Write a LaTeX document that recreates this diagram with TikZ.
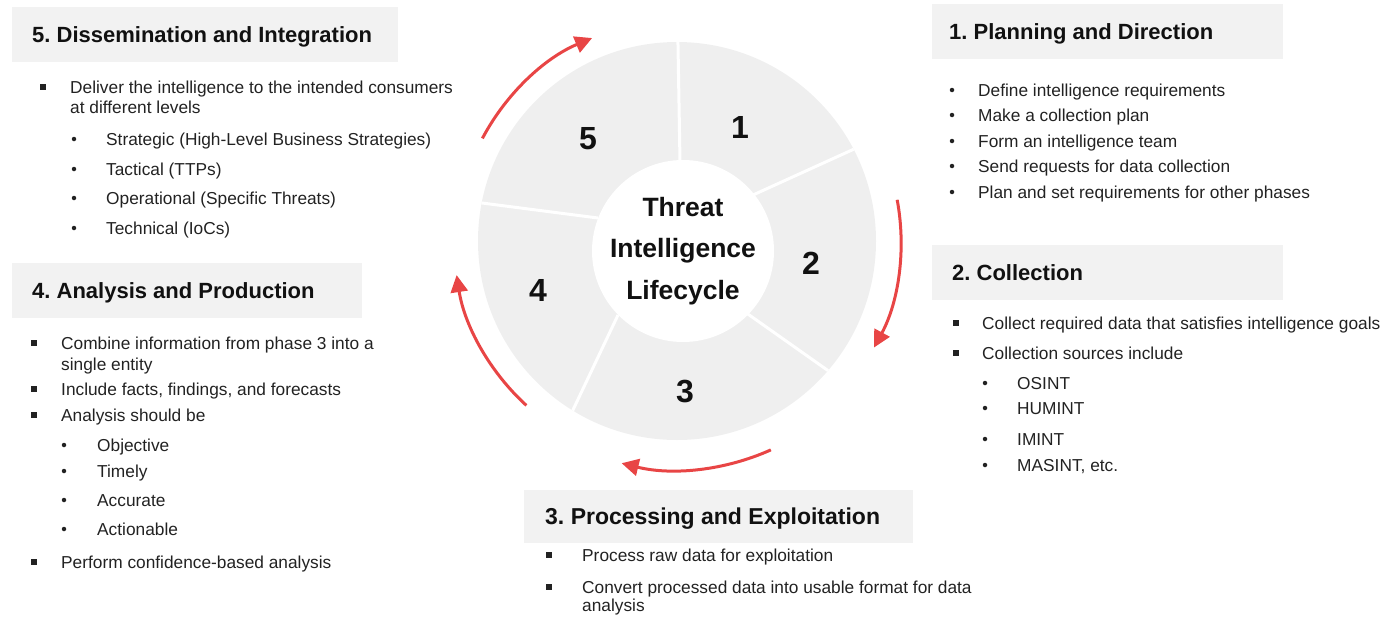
\documentclass[tikz,border=0pt]{standalone}
\usepackage{fontspec}
\setmainfont{Liberation Sans}
\usetikzlibrary{arrows.meta,calc}
\frenchspacing
\definecolor{boxgray}{HTML}{F2F2F2}
\definecolor{ringgray}{HTML}{EFEFEF}
\definecolor{arrowred}{HTML}{E84545}
\definecolor{ink}{HTML}{111111}
\definecolor{bodyink}{HTML}{222222}
\newcommand\bodyfont{\fontsize{17.3}{21}\selectfont}
\newcommand\sqitem[5]{\node[sqbullet] (#1b) at (#2,#4) {}; \node[bodytext] (#1) at (#3,#4) {#5};}
\newcommand\dotitem[5]{\node[dotbullet] (#1b) at (#2,#4) {}; \node[bodytext] (#1) at (#3,#4) {#5};}
\newcommand\contline[4]{\node[bodytext] (#1) at (#2,#3) {#4};}
\begin{document}
\begin{tikzpicture}[x=1pt,y=-1pt,
  hdrbox/.style={fill=boxgray, anchor=north west, inner sep=0pt, minimum height=55pt},
  hdrtext/.style={anchor=west, inner sep=0pt, text height=15.8pt, text depth=0pt,
    font=\fontsize{22}{26}\selectfont\bfseries, text=ink},
  bodytext/.style={anchor=west, inner sep=0pt, text height=12.4pt, text depth=0pt,
    font=\bodyfont, text=bodyink},
  sqbullet/.style={rectangle, fill=bodyink, minimum size=6pt, inner sep=0pt},
  dotbullet/.style={circle, fill=bodyink, minimum size=4.5pt, inner sep=0pt},
  num/.style={font=\fontsize{32}{36}\selectfont\bfseries, text=ink},
  cyclearrow/.style={draw=arrowred, line width=3pt, -{Triangle[length=17pt,width=17pt]}},
  divider/.style={draw=white, line width=3pt}]
\useasboundingbox (0,0) rectangle (1398,627);

% ---- cycle wheel ----
\coordinate (c) at (677,241);
\fill[ringgray] (c) circle[radius=199];
\begin{scope}
  \clip (c) circle[radius=199];
  \coordinate (l1i) at (680,162); \coordinate (l1o) at (678,45);
  \coordinate (l2i) at (753,195); \coordinate (l2o) at (852,150);
  \coordinate (l3i) at (745,312); \coordinate (l3o) at (830,372);
  \coordinate (l4i) at (618,315); \coordinate (l4o) at (572,412);
  \coordinate (l5i) at (598,218); \coordinate (l5o) at (482,203);
  \draw[divider] (l1i) -- ($(l1i)!1.5!(l1o)$);
  \draw[divider] (l2i) -- ($(l2i)!1.5!(l2o)$);
  \draw[divider] (l3i) -- ($(l3i)!1.5!(l3o)$);
  \draw[divider] (l4i) -- ($(l4i)!1.5!(l4o)$);
  \draw[divider] (l5i) -- ($(l5i)!1.5!(l5o)$);
\end{scope}
\node[circle, fill=white, minimum size=182pt, inner sep=0pt, align=center,
  font=\fontsize{26.5}{41.5}\selectfont\bfseries, text=ink] (hub) at (683,251)
  {Threat\\Intelligence\\Lifecycle};

\node[num] (n1) at (740,127) {1};
\node[num] (n2) at (811,263) {2};
\node[num] (n3) at (685,392) {3};
\node[num] (n4) at (538,290) {4};
\node[num] (n5) at (588,139) {5};

% ---- red cycle arrows ----
\draw[cyclearrow] ([shift={(-152.2:220)}]c) arc[start angle=-152.2, end angle=-112.7, radius=220];
\draw[cyclearrow] ([shift={(-10.6:224)}]c) arc[start angle=-10.6, end angle=28.4, radius=224];
\draw[cyclearrow] ([shift={(65.8:229)}]c) arc[start angle=65.8, end angle=104, radius=229];
\draw[cyclearrow] ([shift={(132.5:223)}]c) arc[start angle=132.5, end angle=171.2, radius=223];

% ---- headers ----
\node[hdrbox, minimum width=386pt] (b5) at (12,7) {};
\node[hdrtext] (h5) at ([xshift=20pt]b5.west) {5. Dissemination and Integration};
\node[hdrbox, minimum width=351pt] (b1) at (932,4) {};
\node[hdrtext] (h1) at ([xshift=17pt]b1.west) {1. Planning and Direction};
\node[hdrbox, minimum width=351pt] (b2) at (932,245) {};
\node[hdrtext] (h2) at ([xshift=20pt]b2.west) {2. Collection};
\node[hdrbox, minimum width=350pt] (b4) at (12,263) {};
\node[hdrtext] (h4) at ([xshift=20pt]b4.west) {4. Analysis and Production};
\node[hdrbox, minimum width=389pt, minimum height=53pt] (b3) at (524,490) {};
\node[hdrtext, font=\fontsize{23}{27}\selectfont\bfseries] (h3) at ([xshift=21pt]b3.west) {3. Processing and Exploitation};

% ---- list 5 ----
\sqitem{d1}{43}{70}{87}{Deliver the intelligence to the intended consumers}
\contline{d1c}{70}{107}{at different levels}
\dotitem{d2}{74}{106}{139}{Strategic (High-Level Business Strategies)}
\dotitem{d3}{74}{106}{169}{Tactical (TTPs)}
\dotitem{d4}{74}{106}{198}{Operational (Specific Threats)}
\dotitem{d5}{74}{106}{228}{Technical (IoCs)}

% ---- list 1 ----
\dotitem{p1}{952}{978}{90}{Define intelligence requirements}
\dotitem{p2}{952}{978}{115}{Make a collection plan}
\dotitem{p3}{952}{978}{141}{Form an intelligence team}
\dotitem{p4}{952}{978}{166}{Send requests for data collection}
\dotitem{p5}{952}{978}{192}{Plan and set requirements for other phases}

% ---- list 2 ----
\sqitem{c1}{956}{982}{323}{Collect required data that satisfies intelligence goals}
\sqitem{c2}{956}{982}{353}{Collection sources include}
\dotitem{c3}{985}{1017}{383}{OSINT}
\dotitem{c4}{985}{1017}{408}{HUMINT}
\dotitem{c5}{985}{1017}{439}{IMINT}
\dotitem{c6}{985}{1017}{465}{MASINT, etc.}

% ---- list 4 ----
\sqitem{a1}{34}{61}{343}{Combine information from phase 3 into a}
\contline{a1c}{61}{364}{single entity}
\sqitem{a2}{34}{61}{389}{Include facts, findings, and forecasts}
\sqitem{a3}{34}{61}{415}{Analysis should be}
\dotitem{a4}{64}{97}{445}{Objective}
\dotitem{a5}{64}{97}{471}{Timely}
\dotitem{a6}{64}{97}{500}{Accurate}
\dotitem{a7}{64}{97}{529}{Actionable}
\sqitem{a8}{34}{61}{562}{Perform confidence-based analysis}

% ---- list 3 ----
\sqitem{e1}{549}{582}{555}{Process raw data for exploitation}
\sqitem{e2}{549}{582}{587}{Convert processed data into usable format for data}
\contline{e2c}{582}{605}{analysis}
\end{tikzpicture}
\end{document}
